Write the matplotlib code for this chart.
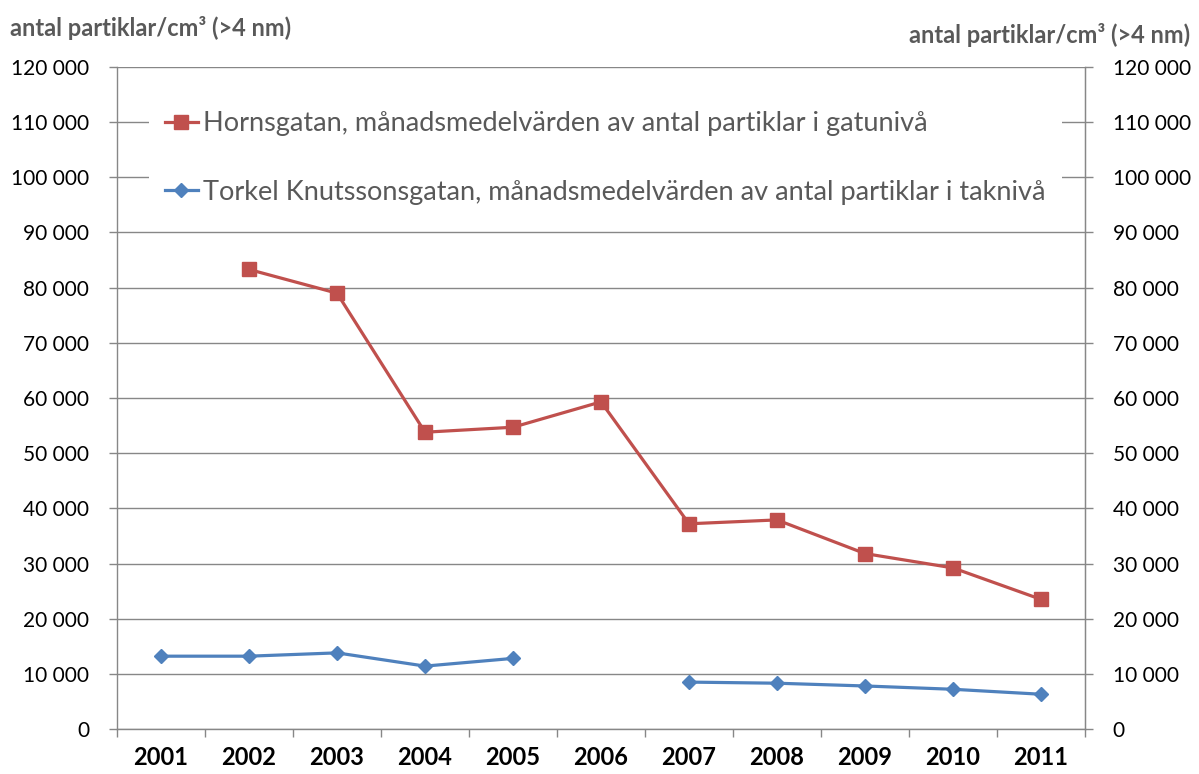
import numpy as np
import matplotlib
matplotlib.use("Agg")
import matplotlib.pyplot as plt
from matplotlib.ticker import FuncFormatter, MultipleLocator

years = ["2001", "2002", "2003", "2004", "2005", "2006",
         "2007", "2008", "2009", "2010", "2011"]
horns = [np.nan, 83300, 79000, 53800, 54700, 59300,
         37200, 37900, 31800, 29200, 23500]
torkel = [13200, 13200, 13800, 11400, 12800, np.nan,
          8500, 8300, 7800, 7200, 6300]
horns_label = "Hornsgatan, månadsmedelvärden av antal partiklar i gatunivå"
torkel_label = "Torkel Knutssonsgatan, månadsmedelvärden av antal partiklar i taknivå"
unit_label = "antal partiklar/cm³ (>4 nm)"

plt.rcParams['font.family'] = ['Lato', 'DejaVu Sans']

grid_col = "#878787"
red = "#C0504D"
blue = "#4F81BD"


def fmt(v, pos):
    return f"{int(v):,}".replace(",", " ")


fig = plt.figure(figsize=(11.99, 7.74), dpi=100)
ax = fig.add_axes([117 / 1199, 45 / 774, 968 / 1199, 662 / 774])
x = np.arange(len(years))

ax.plot(x, horns, color=red, lw=2.3, marker="s", ms=9.5, label=horns_label, zorder=3)
ax.plot(x, torkel, color=blue, lw=2.3, marker="D", ms=7, label=torkel_label, zorder=3)

ax.set_xlim(-0.5, len(years) - 0.5)
ax.set_ylim(0, 120000)
ax.yaxis.set_major_locator(MultipleLocator(10000))
ax.yaxis.set_major_formatter(FuncFormatter(fmt))
ax.yaxis.grid(True, color=grid_col, lw=1.0)
ax.set_axisbelow(True)

ax.set_xticks(x)
ax.set_xticklabels(years, fontweight="bold", fontsize=17)
ax.set_xticks(np.arange(-0.5, len(years)), minor=True)
ax.tick_params(axis="x", which="major", length=0, pad=12)
ax.tick_params(axis="x", which="minor", length=6, color=grid_col, width=1)
ax.tick_params(axis="y", length=6, color=grid_col, width=1, labelsize=15, pad=14)

ax.spines["top"].set_visible(False)
for s in ["left", "right", "bottom"]:
    ax.spines[s].set_color(grid_col)
    ax.spines[s].set_linewidth(1.0)

ax2 = ax.twinx()
ax2.set_ylim(ax.get_ylim())
ax2.yaxis.set_major_locator(MultipleLocator(10000))
ax2.yaxis.set_major_formatter(FuncFormatter(fmt))
ax2.tick_params(axis="y", length=6, color=grid_col, width=1, labelsize=15, pad=14)
for s in ["top", "left", "bottom"]:
    ax2.spines[s].set_visible(False)
ax2.spines["right"].set_color(grid_col)

leg = ax.legend(loc="upper left", bbox_to_anchor=(0.033, 0.958), fontsize=19.5,
                frameon=True, facecolor="white", edgecolor="none",
                fancybox=False, framealpha=1, labelspacing=1.62,
                handlelength=1.2, handletextpad=0.2, borderpad=0.6,
                borderaxespad=0)
for t in leg.get_texts():
    t.set_color("#595959")

fig.text(10 / 1199, 1 - 28 / 774, unit_label, fontsize=17, fontweight="bold",
         color="#595959", va="center", ha="left")
fig.text(1190 / 1199, 1 - 35 / 774, unit_label, fontsize=17, fontweight="bold",
         color="#595959", va="center", ha="right")

fig.savefig("out.png", dpi=100)
